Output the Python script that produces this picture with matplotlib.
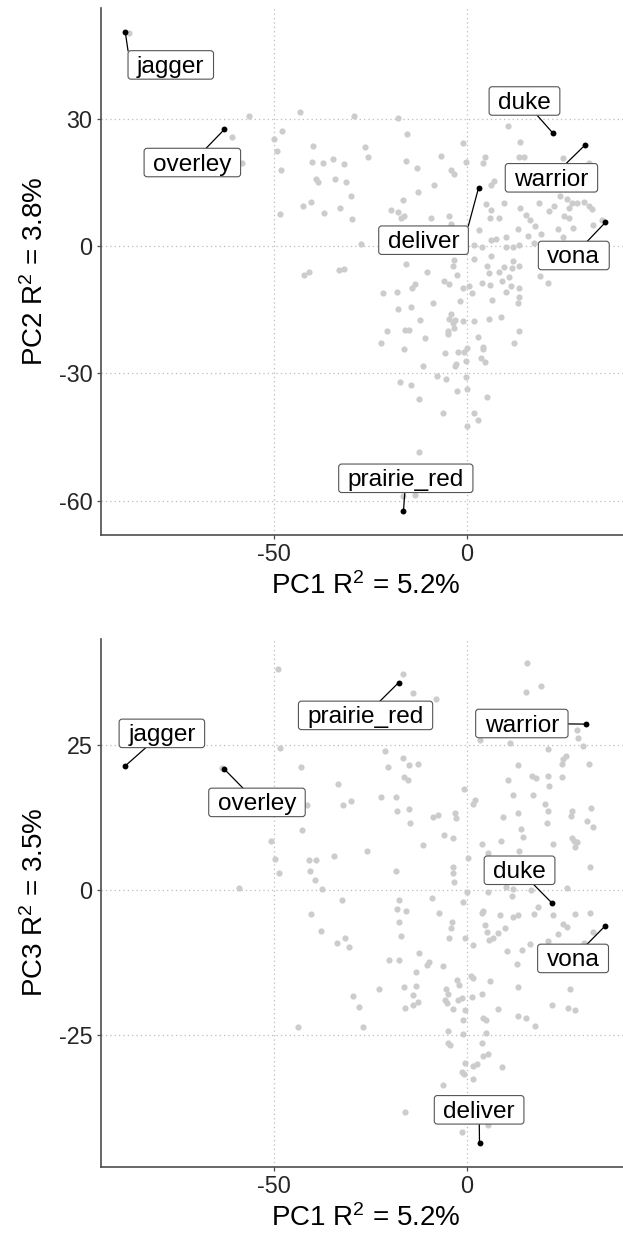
import numpy as np
import matplotlib
matplotlib.use("Agg")
import matplotlib.pyplot as plt
from matplotlib.patches import FancyBboxPatch
from matplotlib.lines import Line2D
from matplotlib.transforms import IdentityTransform, offset_copy

plt.rcParams["font.family"] = ["Liberation Sans", "DejaVu Sans"]
plt.rcParams["mathtext.fontset"] = "custom"
plt.rcParams["mathtext.rm"] = "Liberation Sans"
plt.rcParams["mathtext.default"] = "regular"
plt.rcParams["axes.unicode_minus"] = False

# ---- PC1 vs PC2 : unlabelled lines (grey) ----
top_points = [
    (-87.8, 50.2),
    (-56.5, 30.7), (-43.3, 31.6), (-29.3, 30.7), (-17.8, 30.3), (-61.0, 25.6), (-48.1, 27.1),
    (-50.2, 25.2), (-49.3, 22.5), (-48.4, 17.9), (-58.4, 19.5), (-39.9, 23.5), (-40.3, 19.9),
    (-37.4, 19.7), (-34.9, 20.6), (-31.9, 19.3), (-39.1, 15.8), (-38.7, 15.1), (-34.3, 15.9),
    (-31.4, 15.1), (-30.1, 11.9), (-42.5, 9.5), (-40.4, 10.3), (-37.1, 7.9), (-33.0, 8.9),
    (-29.8, 6.3), (-48.5, 7.5), (-26.6, 23.3), (-25.7, 21.1), (-15.7, 26.5), (-15.8, 20.1),
    (-13.1, 18.5), (-16.6, 10.8), (-12.8, 12.8), (-19.7, 8.4), (-17.8, 8.0), (-16.3, 7.2),
    (-17.2, 6.6), (-27.5, 0.5), (-15.8, -4.2), (-42.3, -6.9), (-41.1, -6.1), (-33.3, -5.7),
    (-32.0, -5.3), (-21.8, -11.1), (-18.2, -10.9), (-14.3, -9.9), (-13.6, -8.9),
    (10.6, 28.4), (13.7, 24.5), (-1.0, 24.4), (-6.8, 21.3), (-0.2, 19.9), (4.2, 19.7),
    (4.6, 20.9), (-4.3, 18.0), (-3.5, 17.0), (-8.7, 14.3), (7.1, 15.4), (6.1, 14.4),
    (13.5, 20.9), (14.7, 20.9), (24.9, 20.7), (31.6, 19.5), (5.0, 10.0), (6.2, 8.5),
    (9.7, 10.1), (13.8, 8.9), (15.4, 7.4), (16.4, 6.2), (17.7, 4.8), (18.6, 10.1),
    (21.2, 8.3), (22.5, 9.5), (24.2, 11.7), (26.0, 11.1), (27.3, 10.1), (28.6, 10.1),
    (30.3, 10.5), (31.6, 9.5), (32.5, 8.7), (26.4, 8.9), (25.1, 7.2), (26.4, 6.6),
    (27.5, 4.2), (32.7, 4.9), (35.1, 6.2), (23.5, 4.0), (19.2, 2.8), (24.9, 2.1),
    (15.8, 2.3), (13.2, 4.0), (10.0, 2.1), (8.2, 6.6), (5.9, 6.6), (3.0, 3.7),
    (6.2, 1.5), (7.4, 1.6), (1.7, 0.2), (4.0, -0.1), (10.2, -0.1), (12.0, -0.1),
    (13.6, 0.2), (17.3, 0.7), (-4.6, 7.0), (-4.3, 5.2), (-9.4, 6.6), (6.1, -2.3),
    (-3.5, -3.2), (12.0, -3.5), (-3.7, -4.6), (5.2, -4.6), (5.6, -6.4), (8.4, -6.2),
    (9.7, -5.0), (11.7, -5.2), (13.5, -4.6), (18.9, -7.0), (-10.3, -6.1), (-2.6, -6.8),
    (-6.1, -8.1), (-4.7, -9.0), (4.0, -8.6), (5.9, -9.1), (9.1, -8.3), (10.8, -7.2),
    (11.4, -9.4), (13.5, -9.9), (20.9, -8.7), (-1.1, -9.9), (0.5, -9.5), (1.4, -11.1),
    (10.2, -10.9), (13.5, -11.9), (1.7, -3.1),
    (-17.8, -14.8), (-14.6, -14.4), (-12.3, -17.3), (-20.9, -20.0), (-16.0, -19.8),
    (-15.2, -19.8), (-22.4, -22.8), (-16.3, -24.3), (-17.3, -32.0), (-14.6, -32.8),
    (-12.5, -36.1), (-12.5, -48.5), (-16.5, -58.9), (-13.6, -58.7),
    (-8.8, -13.5), (-1.8, -13.0), (6.5, -12.6), (13.2, -13.4), (-4.8, -17.2), (-3.7, -18.0),
    (-3.1, -17.3), (-4.1, -16.0), (-1.0, -17.6), (1.9, -17.6), (5.7, -17.2), (8.7, -16.7),
    (-3.3, -19.4), (-5.0, -20.1), (-4.9, -20.6), (-11.0, -21.6), (2.8, -21.3), (13.4, -20.0),
    (12.1, -22.8), (-5.6, -25.2), (-2.3, -25.0), (-0.9, -24.9), (0.1, -24.0), (4.1, -23.8),
    (4.2, -24.2), (-0.4, -27.0), (-3.2, -28.2), (-2.8, -27.7), (3.7, -26.4), (4.7, -27.4),
    (-11.4, -28.2), (-7.8, -30.7), (-5.5, -31.3), (-0.4, -30.8), (0.0, -33.6), (-2.6, -34.1),
    (5.2, -35.5), (-6.2, -39.2), (1.7, -39.2), (2.8, -40.9), (0.1, -42.4),
]

# ---- PC1 vs PC3 : unlabelled lines (grey) ----
bottom_points = [
    (-49.1, 38.1), (-16.6, 37.2), (-13.9, 34.0), (-48.5, 24.5), (-21.2, 24.0), (-43.0, 21.2),
    (-63.6, 21.0), (-16.6, 22.7), (-14.9, 21.5), (-12.8, 21.8), (-20.4, 21.2), (-16.3, 19.5),
    (-15.4, 19.0), (-33.4, 18.2), (-41.6, 14.7), (-32.2, 14.7), (-30.2, 15.4), (-22.2, 16.0),
    (-18.5, 16.1), (-18.2, 13.7), (-14.9, 14.0), (-14.7, 11.5), (-42.8, 10.4), (-50.8, 8.4),
    (-49.9, 5.3), (-48.8, 3.0), (-40.9, 5.2), (-39.2, 5.2), (-34.6, 5.9), (-26.0, 6.8),
    (-40.8, 3.2), (-39.4, 1.7), (-37.6, 0.1), (-59.1, 0.4), (-18.3, 3.3),
    (15.6, 39.2), (15.4, 34.2), (19.3, 35.2), (-8.0, 33.0), (28.6, 27.6), (29.0, 26.2),
    (11.1, 25.4), (3.5, 25.9), (21.0, 24.3), (30.1, 24.9), (25.8, 23.1), (25.1, 22.6),
    (24.7, 21.7), (31.7, 21.7), (13.2, 21.5), (16.9, 19.7), (18.0, 19.3), (21.2, 19.7),
    (24.8, 19.4), (10.6, 19.0), (21.3, 17.9), (-0.6, 17.4), (12.0, 16.4), (17.1, 16.3),
    (2.2, 15.5), (1.7, 14.8), (20.3, 14.8), (21.2, 13.6), (27.3, 13.7), (27.1, 12.8),
    (32.2, 14.2), (13.2, 13.3), (9.5, 12.5), (-3.1, 13.3), (-2.9, 12.4), (-8.9, 12.5),
    (-7.4, 12.9), (20.8, 11.5), (31.2, 11.9), (32.7, 10.9), (14.1, 10.6), (-5.8, 9.4),
    (-3.6, 8.9), (14.7, 9.1), (27.3, 8.9), (27.9, 8.5), (28.6, 8.2), (28.2, 7.4),
    (9.0, 8.5), (3.9, 7.9), (22.5, 7.9), (13.5, 6.8), (5.5, 6.4), (-11.3, 7.8),
    (0.3, 5.5), (-3.5, 4.0), (-3.5, 3.0), (-3.2, 1.3), (32.0, 4.0), (0.0, -0.3),
    (5.6, -0.3), (10.1, 0.5), (11.9, 0.2), (11.7, -1.0), (16.7, 0.0), (26.0, 0.3),
    (-9.1, -1.4),
    (-32.5, -1.8), (-40.4, -4.2), (-37.8, -7.0), (-33.7, -9.1), (-31.7, -8.3), (-30.5, -9.8),
    (-17.7, -1.7), (-18.2, -3.2), (-15.9, -3.7), (-17.6, -5.6), (-17.0, -8.0), (-20.1, -12.1),
    (-17.5, -12.0), (-12.5, -10.9), (-13.3, -14.2), (-22.9, -17.0), (-16.4, -16.7),
    (-13.1, -16.5), (-14.0, -18.1), (-16.1, -20.3), (-14.1, -19.9), (-12.6, -19.3),
    (-29.6, -18.3), (-27.9, -20.1), (-43.8, -23.7), (-26.9, -23.6), (-16.0, -38.2),
    (-0.9, -2.0), (-7.1, -3.9), (-3.9, -5.5), (-4.1, -6.6), (-4.5, -8.3), (-0.4, -8.3),
    (1.5, -9.4), (3.9, -4.0), (4.3, -3.6), (4.8, -6.0), (5.2, -7.2), (8.7, -4.3),
    (12.1, -4.7), (13.2, -4.3), (10.0, -6.6), (8.1, -7.5), (6.9, -8.2), (5.7, -8.7),
    (10.4, -10.5), (14.3, -10.3), (16.4, -9.3), (17.5, -4.2), (18.4, -2.9), (22.3, -4.3),
    (25.1, -5.8), (26.1, -6.3), (23.6, -7.6), (21.2, -8.8), (28.2, -4.1), (31.9, -3.9),
    (32.7, -7.3), (30.4, -9.1), (13.0, -12.8), (-10.4, -12.9), (-9.7, -12.5), (-6.2, -13.1),
    (1.2, -14.9), (1.7, -15.2), (6.1, -15.7), (-2.6, -15.6), (-1.9, -16.3), (-5.4, -17.1),
    (-4.8, -18.0), (-5.6, -19.0), (-5.2, -19.4), (-2.4, -19.0), (-1.3, -18.7), (1.3, -18.5),
    (3.9, -17.9), (13.2, -16.8), (26.7, -17.0), (-3.5, -20.6), (-0.4, -20.7), (-0.9, -22.4),
    (8.1, -20.6), (4.3, -22.1), (5.0, -22.5), (13.2, -21.7), (15.4, -22.0), (17.8, -23.4),
    (22.1, -19.8), (26.4, -20.4), (28.0, -20.7), (-4.8, -24.3), (-1.1, -24.8), (5.0, -24.6),
    (-4.8, -26.4), (-4.3, -26.8), (3.9, -26.3), (5.6, -28.2), (4.3, -28.6), (-0.4, -29.9),
    (-1.2, -31.3), (-0.7, -31.7), (1.7, -30.3), (2.6, -30.0), (1.6, -32.5), (9.1, -30.6),
    (-6.3, -33.7), (-1.2, -41.8), (5.6, -40.6),
]

# ---- highlighted lines ----
names = ["jagger", "overley", "duke", "warrior", "deliver", "vona", "prairie_red"]
hl_pc1 = [-88.7, -63.0, 22.2, 30.6, 3.0, 35.9, -16.5]
hl_pc2 = [50.4, 27.5, 26.7, 23.8, 13.8, 5.6, -62.4]
hl_pc1_b = [-88.7, -63.0, 22.2, 31.0, 3.3, 36.0, -17.7]
hl_pc3 = [21.4, 20.85, -2.3, 28.6, -43.6, -6.15, 35.75]

# label box centres (as placed by the repel layout)
lab_top_x = [-76.9, -71.3, 14.9, 21.9, -11.3, 27.7, -15.9]
lab_top_y = [42.7, 19.7, 34.2, 16.1, 1.4, -2.2, -54.7]
lab_bot_x = [-79.2, -54.5, 13.7, 14.3, 3.2, 27.6, -26.3]
lab_bot_y = [27.0, 15.1, 3.4, 28.7, -37.9, -11.8, 30.1]

W, H = 623, 1239
fig = plt.figure(figsize=(W / 100, H / 100), dpi=100)

GRID = "#bdbdbd"
AXC = "#4d4d4d"


def padded(v):
    lo, hi = min(v), max(v)
    r = hi - lo
    return lo - 0.05 * r, hi + 0.05 * r


def make_panel(rect_px, gx, gy, hx, hy, lx, ly, xlab, ylab, yticks):
    left, top, right, bottom = rect_px
    ax = fig.add_axes([left / W, 1 - bottom / H, (right - left) / W, (bottom - top) / H])
    ax.scatter(gx, gy, s=20, color="#cccccc", linewidths=0, zorder=2)
    ax.scatter(hx, hy, s=18, color="black", linewidths=0, zorder=3)
    ax.set_xlim(*padded(list(gx) + list(hx)))
    ax.set_ylim(*padded(list(gy) + list(hy)))
    ax.set_xticks([-50, 0])
    ax.set_yticks(yticks)
    ax.grid(True, color=GRID, linestyle=(0, (1, 2.5)), linewidth=0.9)
    ax.set_axisbelow(True)
    for s in ["top", "right"]:
        ax.spines[s].set_visible(False)
    for s in ["left", "bottom"]:
        ax.spines[s].set_color(AXC)
        ax.spines[s].set_linewidth(1.2)
    ax.tick_params(length=3, width=0.9, color=AXC, labelsize=16.8, labelcolor="#262626")
    ax.tick_params(axis="x", pad=2.5)
    ax.tick_params(axis="y", pad=3.5)
    ax.set_xlabel(xlab, fontsize=20, labelpad=5)
    ax.set_ylabel(ylab, fontsize=20, labelpad=7)
    texts = []
    tr = offset_copy(ax.transData, fig=fig, x=0, y=-2, units="dots")
    for name, tx, ty in zip(names, lx, ly):
        t = ax.text(tx, ty, name, transform=tr, ha="center", va="center",
                    fontsize=17.6, color="black", zorder=6, clip_on=False)
        texts.append(t)
    return ax, texts


top_x, top_y = zip(*top_points)
bot_x, bot_y = zip(*bottom_points)

ax1, t1 = make_panel((101.3, 8.3, 629.4, 534.9), top_x, top_y, hl_pc1, hl_pc2,
                     lab_top_x, lab_top_y, "PC1 R$^2$ = 5.2%", "PC2 R$^2$ = 3.8%",
                     [-60, -30, 0, 30])
ax2, t2 = make_panel((101.3, 638.6, 629.4, 1166.9), bot_x, bot_y, hl_pc1_b, hl_pc3,
                     lab_bot_x, lab_bot_y, "PC1 R$^2$ = 5.2%", "PC3 R$^2$ = 3.5%",
                     [-25, 0, 25])

fig.canvas.draw()
renderer = fig.canvas.get_renderer()
ident = IdentityTransform()


def add_boxes(ax, texts, hx, hy):
    for t, x, y in zip(texts, hx, hy):
        bb = t.get_window_extent(renderer)
        cx = (bb.x0 + bb.x1) / 2
        cy = (bb.y0 + bb.y1) / 2 + 2
        bw = bb.width + 18
        bh = 28.5
        x0, x1 = cx - bw / 2, cx + bw / 2
        y0, y1 = cy - bh / 2, cy + bh / 2
        box = FancyBboxPatch((x0, y0), bw, bh, boxstyle="round,pad=0,rounding_size=3",
                             transform=ident, facecolor="white", edgecolor="#555555",
                             linewidth=0.8, zorder=5, clip_on=False)
        ax.add_artist(box)
        px, py = ax.transData.transform((x, y))
        out_x = px < x0 or px > x1
        out_y = py < y0 or py > y1
        if not (out_x or out_y):
            continue
        if out_x and out_y:
            # point sits diagonally off the box: connect to the nearest corner
            ex = x0 if px < x0 else x1
            ey = y0 if py < y0 else y1
        else:
            # otherwise aim at the box centre and stop at its edge
            dx, dy = cx - px, cy - py
            tx = (x0 - px) / dx if px < x0 else ((x1 - px) / dx if px > x1 else 0.0)
            ty = (y0 - py) / dy if py < y0 else ((y1 - py) / dy if py > y1 else 0.0)
            tt = max(tx, ty)
            ex, ey = px + tt * dx, py + tt * dy
        seg = Line2D([px, ex], [py, ey], transform=ident, color="black",
                     linewidth=0.9, zorder=4, clip_on=False)
        ax.add_artist(seg)


add_boxes(ax1, t1, hl_pc1, hl_pc2)
add_boxes(ax2, t2, hl_pc1_b, hl_pc3)

fig.savefig("out.png", dpi=100)
